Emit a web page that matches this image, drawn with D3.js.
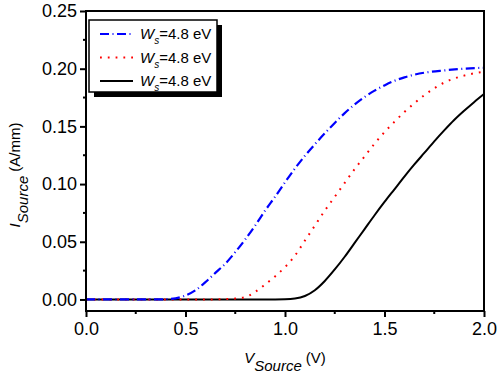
<!DOCTYPE html>
<html lang="en">
<head>
<meta charset="UTF-8">
<title>I-V source</title>
<script src="https://d3js.org/d3.v7.min.js"></script>
<style>
  body { margin: 0; background: #fff; }
  svg text { font-family: Arial, "Liberation Sans", sans-serif; fill: #000; }
  .tick-label { font-size: 18px; }
</style>
</head>
<body>
<svg id="chart" width="499" height="377"></svg>
<script>
// values
var blueV = [0, 0.2, 0.35, 0.42, 0.45, 0.5, 0.55, 0.6, 0.65, 0.7, 0.75, 0.8, 0.85, 0.9, 0.95, 1.0, 1.05, 1.1, 1.15, 1.2, 1.25, 1.3, 1.35, 1.4, 1.45, 1.5, 1.55, 1.6, 1.65, 1.7, 1.8, 1.9, 2.0];
var blueI = [0, 0, 0, 0.0004, 0.001, 0.0035, 0.008, 0.015, 0.023, 0.031, 0.041, 0.052, 0.064, 0.077, 0.089, 0.1015, 0.1135, 0.1245, 0.1345, 0.144, 0.153, 0.1615, 0.169, 0.1755, 0.181, 0.1855, 0.1895, 0.1925, 0.1948, 0.1965, 0.1985, 0.2, 0.2008];

var redV = [0, 0.3, 0.6, 0.7, 0.75, 0.8, 0.85, 0.9, 0.95, 1.0, 1.05, 1.1, 1.15, 1.2, 1.25, 1.3, 1.35, 1.4, 1.45, 1.5, 1.55, 1.6, 1.65, 1.7, 1.75, 1.8, 1.85, 1.9, 1.95, 2.0];
var redI = [0, 0, 0, 0.0003, 0.0008, 0.002, 0.0065, 0.013, 0.020, 0.028, 0.038, 0.051, 0.064, 0.077, 0.089, 0.101, 0.113, 0.124, 0.135, 0.145, 0.154, 0.1625, 0.170, 0.177, 0.183, 0.188, 0.1915, 0.194, 0.196, 0.1973];

var blackV = [0, 0.5, 0.9, 1.0, 1.05, 1.1, 1.15, 1.2, 1.25, 1.3, 1.35, 1.4, 1.45, 1.5, 1.55, 1.6, 1.65, 1.7, 1.75, 1.8, 1.85, 1.9, 1.95, 2.0];
var blackI = [0, 0, 0, 0.0002, 0.0008, 0.003, 0.008, 0.016, 0.026, 0.037, 0.049, 0.061, 0.073, 0.0845, 0.0955, 0.1065, 0.117, 0.127, 0.137, 0.1465, 0.1555, 0.1635, 0.171, 0.178];

var xTicks = [0, 0.5, 1.0, 1.5, 2.0];
var yTicks = [0, 0.05, 0.10, 0.15, 0.20, 0.25];
var legendLabels = ["4.8 eV", "4.8 eV", "4.8 eV"];

var svg = d3.select("#chart");
var margin = { left: 86, right: 15, top: 11, bottom: 66 };
var width = 499, height = 377;

var x = d3.scaleLinear().domain([0, 2]).range([margin.left, width - margin.right]);
var y = d3.scaleLinear().domain([-0.01, 0.25]).range([height - margin.bottom, margin.top]);

var line = d3.line()
    .x(d => x(d[0]))
    .y(d => y(d[1]))
    .curve(d3.curveMonotoneX);

var series = [
  { v: blueV, i: blueI, color: "#0000ff", dash: "9,3.5,1,3.5", w: 2.2 },
  { v: redV, i: redI, color: "#ff0000", dash: "1.8,6", w: 2 },
  { v: blackV, i: blackI, color: "#000000", dash: null, w: 2 }
];

// curves, drawn black first so blue/red dashes sit on top of the zero line
series.slice().reverse().forEach(function(s) {
  var pts = s.v.map((v, k) => [v, s.i[k]]);
  svg.append("path")
    .datum(pts)
    .attr("d", line)
    .attr("fill", "none")
    .attr("stroke", s.color)
    .attr("stroke-width", s.w)
    .attr("stroke-dasharray", s.dash);
});

// frame
svg.append("rect")
  .attr("x", x(0)).attr("y", y(0.25))
  .attr("width", x(2) - x(0)).attr("height", y(-0.01) - y(0.25))
  .attr("fill", "none").attr("stroke", "#000").attr("stroke-width", 2);

// axes
var xAxis = d3.axisBottom(x).tickValues(xTicks).tickFormat(d3.format(".1f")).tickSize(6).tickSizeOuter(0);
var gx = svg.append("g").attr("transform", `translate(0,${y(-0.01)})`).call(xAxis);
var yAxis = d3.axisLeft(y).tickValues(yTicks).tickFormat(d3.format(".2f")).tickSize(6).tickSizeOuter(0);
var gy = svg.append("g").attr("transform", `translate(${x(0)},0)`).call(yAxis);

[gx, gy].forEach(function(g) {
  g.select(".domain").remove();
  g.selectAll("line").attr("stroke", "#000").attr("stroke-width", 2);
  g.selectAll("text").attr("class", "tick-label").attr("font-family", null).attr("font-size", null);
});
gx.selectAll("text").attr("dy", "0.71em").attr("y", 11);
gy.selectAll("text").attr("x", -9);

// minor ticks
var xMinor = [0.25, 0.75, 1.25, 1.75];
var yMinor = [0.025, 0.075, 0.125, 0.175, 0.225];
svg.selectAll(".xminor").data(xMinor).enter().append("line")
  .attr("x1", d => x(d)).attr("x2", d => x(d))
  .attr("y1", y(-0.01)).attr("y2", y(-0.01) + 3)
  .attr("stroke", "#000").attr("stroke-width", 2);
svg.selectAll(".yminor").data(yMinor).enter().append("line")
  .attr("x1", x(0) - 3).attr("x2", x(0))
  .attr("y1", d => y(d)).attr("y2", d => y(d))
  .attr("stroke", "#000").attr("stroke-width", 2);

// x axis title
var xt = svg.append("text")
  .attr("x", (x(0) + x(2)) / 2).attr("y", 363)
  .attr("text-anchor", "middle").style("font-size", "15px");
xt.append("tspan").attr("font-style", "italic").text("V");
xt.append("tspan").attr("font-style", "italic").attr("dy", 8).text("Source");
xt.append("tspan").attr("dy", -8).attr("dx", 4).text("(V)");

// y axis title
var yt = svg.append("text")
  .attr("transform", `translate(20,${(y(0.25) + y(-0.01)) / 2 + 14}) rotate(-90)`)
  .attr("text-anchor", "middle").style("font-size", "15px");
yt.append("tspan").attr("font-style", "italic").text("I");
yt.append("tspan").attr("font-style", "italic").attr("dy", 8).text("Source");
yt.append("tspan").attr("dy", -8).attr("dx", 4).text("(A/mm)");

// legend
var lg = svg.append("g").attr("transform", "translate(89,20)");
lg.append("rect").attr("x", 5).attr("y", 5).attr("width", 128).attr("height", 72).attr("fill", "#000");
lg.append("rect").attr("x", 0).attr("y", 0).attr("width", 128).attr("height", 72)
  .attr("fill", "#fff").attr("stroke", "#000").attr("stroke-width", 1.5);

series.forEach(function(s, k) {
  var cy = 14 + k * 23.5;
  lg.append("line")
    .attr("x1", 11).attr("x2", 44).attr("y1", cy).attr("y2", cy)
    .attr("stroke", s.color).attr("stroke-width", s.w)
    .attr("stroke-dasharray", s.dash);
  var t = lg.append("text").attr("x", 51).attr("y", cy + 5).style("font-size", "15px");
  t.append("tspan").attr("font-style", "italic").text("W");
  t.append("tspan").attr("font-style", "italic").attr("dy", 5).style("font-size", "10px").text("s");
  t.append("tspan").attr("dy", -5).text("=" + legendLabels[k]);
});
</script>
</body>
</html>
